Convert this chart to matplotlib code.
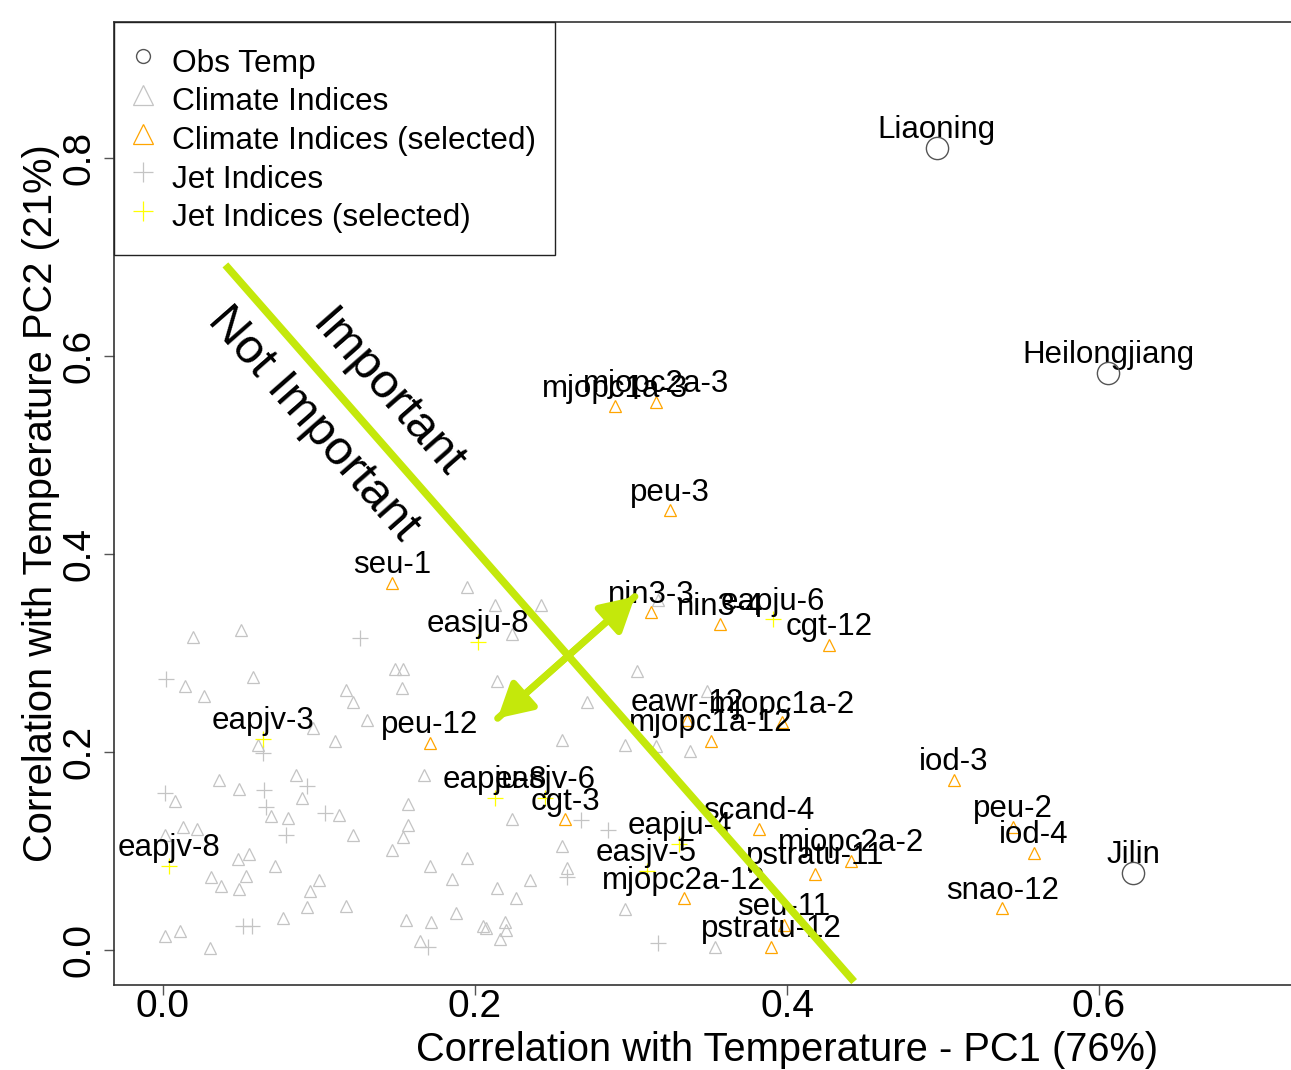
import matplotlib
matplotlib.use("Agg")
import matplotlib.pyplot as plt

plt.rcParams["font.family"] = ["Liberation Sans", "DejaVu Sans"]

# observed temperature series
obs_names = ["Liaoning", "Heilongjiang", "Jilin"]
obs_x = [0.496, 0.606, 0.622]
obs_y = [0.810, 0.583, 0.078]

# climate indices (not selected)
clim_x = [0.195, 0.213, 0.242, 0.019, 0.050, 0.224, 0.149, 0.154, 0.014, 0.026,
          0.058, 0.214, 0.117, 0.153, 0.122, 0.131, 0.096, 0.110, 0.061, 0.167,
          0.036, 0.049, 0.085, 0.008, 0.089, 0.157, 0.069, 0.080, 0.113, 0.224,
          0.013, 0.022, 0.157, 0.001, 0.122, 0.154, 0.147, 0.055, 0.048, 0.195,
          0.072, 0.171, 0.031, 0.053, 0.100, 0.185, 0.235, 0.037, 0.049, 0.094,
          0.214, 0.226, 0.092, 0.117, 0.077, 0.188, 0.156, 0.172, 0.219, 0.205,
          0.207, 0.220, 0.011, 0.001, 0.216, 0.165, 0.030, 0.304, 0.272, 0.256,
          0.296, 0.316, 0.338, 0.349, 0.256, 0.259, 0.296, 0.354, 0.317]
clim_y = [0.367, 0.348, 0.348, 0.316, 0.323, 0.319, 0.284, 0.284, 0.267, 0.257,
          0.276, 0.272, 0.263, 0.265, 0.250, 0.232, 0.224, 0.211, 0.207, 0.177,
          0.172, 0.163, 0.177, 0.150, 0.153, 0.147, 0.135, 0.133, 0.136, 0.132,
          0.124, 0.122, 0.126, 0.116, 0.116, 0.114, 0.101, 0.097, 0.092, 0.093,
          0.085, 0.085, 0.074, 0.075, 0.071, 0.072, 0.071, 0.065, 0.062, 0.060,
          0.063, 0.052, 0.043, 0.044, 0.032, 0.037, 0.030, 0.028, 0.028, 0.024,
          0.022, 0.020, 0.019, 0.014, 0.011, 0.009, 0.002, 0.282, 0.250, 0.212,
          0.207, 0.206, 0.201, 0.262, 0.105, 0.083, 0.041, 0.003, 0.354]

# climate indices (selected)
sel_clim_names = ["seu-1", "peu-12", "mjopc1a-3", "mjopc2a-3", "peu-3", "nin3-3",
                  "nin3-4", "cgt-12", "cgt-3", "eawr-12", "mjopc1a-2", "mjopc1a-12",
                  "scand-4", "mjopc2a-2", "pstratu-11", "mjopc2a-12", "seu-11",
                  "pstratu-12", "iod-3", "peu-2", "iod-4", "snao-12"]
sel_clim_x = [0.147, 0.171, 0.290, 0.316, 0.325, 0.313, 0.357, 0.427, 0.258, 0.336,
              0.397, 0.351, 0.382, 0.441, 0.418, 0.334, 0.398, 0.390, 0.507, 0.545,
              0.558, 0.538]
sel_clim_y = [0.371, 0.209, 0.549, 0.554, 0.444, 0.341, 0.329, 0.308, 0.132, 0.232,
              0.230, 0.211, 0.122, 0.090, 0.077, 0.052, 0.025, 0.003, 0.172, 0.124,
              0.098, 0.042]

# jet indices (not selected)
jet_x = [0.126, 0.002, 0.064, 0.001, 0.065, 0.092, 0.066, 0.104, 0.079, 0.051,
         0.057, 0.170, 0.268, 0.285, 0.259, 0.317]
jet_y = [0.315, 0.274, 0.199, 0.159, 0.162, 0.166, 0.144, 0.138, 0.116, 0.024,
         0.024, 0.003, 0.131, 0.121, 0.074, 0.007]

# jet indices (selected)
sel_jet_names = ["easju-8", "eapjv-3", "eapjv-8", "eapju-8", "easjv-6", "eapju-6",
                 "eapju-4", "easjv-5"]
sel_jet_x = [0.202, 0.064, 0.004, 0.213, 0.245, 0.391, 0.331, 0.310]
sel_jet_y = [0.311, 0.213, 0.085, 0.154, 0.154, 0.334, 0.107, 0.080]

# separating line and double arrow (data units)
split_x = [0.040, 0.443]
split_y = [0.692, -0.032]
arrow_from = (0.3025, 0.357)
arrow_to = (0.2145, 0.234)

GREEN = "#c4e80b"

fig = plt.figure(figsize=(12.91, 10.70), dpi=100)
ax = fig.add_axes([114 / 1291, 85 / 1070, (1461 - 114) / 1291, 963 / 1070])

ax.plot(clim_x, clim_y, ls="none", marker="^", ms=9, mfc="none", mec="#c4c4c4",
        mew=0.9, label="Climate Indices", zorder=2)
ax.plot(jet_x, jet_y, ls="none", marker="+", ms=11, mec="#c4c4c4", mew=0.9,
        label="Jet Indices", zorder=2)
ax.plot(sel_clim_x, sel_clim_y, ls="none", marker="^", ms=9, mfc="none", mec="#ffa500",
        mew=0.9, label="Climate Indices (selected)", zorder=3)
ax.plot(sel_jet_x, sel_jet_y, ls="none", marker="+", ms=11, mec="#ffff00", mew=0.9,
        label="Jet Indices (selected)", zorder=3)
ax.plot(obs_x, obs_y, ls="none", marker="o", ms=16, mfc="none", mec="#555555",
        mew=1.0, label="Obs Temp", zorder=5)

for names, xs, ys in [(sel_clim_names, sel_clim_x, sel_clim_y),
                      (sel_jet_names, sel_jet_x, sel_jet_y),
                      (obs_names, obs_x, obs_y)]:
    for n, x, y in zip(names, xs, ys):
        ax.annotate(n, (x, y), xytext=(0, 7), textcoords="offset points",
                    ha="center", va="baseline", fontsize=22.5, zorder=4)

ax.plot(split_x, split_y, color=GREEN, lw=5.5, solid_capstyle="butt", zorder=6)
ax.annotate("", xy=arrow_to, xytext=arrow_from,
            arrowprops=dict(arrowstyle="<|-|>,head_length=0.45,head_width=0.25",
                            color=GREEN, lw=5, mutation_scale=45,
                            shrinkA=0, shrinkB=0), zorder=6)
ax.annotate("", xy=arrow_from, xytext=arrow_to,
            arrowprops=dict(arrowstyle="-", color=GREEN, lw=5,
                            shrinkA=0, shrinkB=0), zorder=6)

ax.text(0.1440, 0.561, "Important", rotation=-48.7, rotation_mode="anchor",
        ha="center", va="center", fontsize=35)
ax.text(0.0960, 0.531, "Not Important", rotation=-48.7, rotation_mode="anchor",
        ha="center", va="center", fontsize=35)

ax.set_xlim(-0.0314, 0.832)
ax.set_ylim(-0.0354, 0.9374)
ax.set_xticks([0.0, 0.2, 0.4, 0.6])
ax.set_yticks([0.0, 0.2, 0.4, 0.6, 0.8])
ax.set_xticklabels(["0.0", "0.2", "0.4", "0.6"])
ax.set_yticklabels(["0.0", "0.2", "0.4", "0.6", "0.8"], rotation=90, va="center")
ax.tick_params(labelsize=28, length=7, width=1, color="#555555")
ax.tick_params(axis="x", pad=-4)
ax.tick_params(axis="y", pad=5)
for s in ax.spines.values():
    s.set_color("#333333")
    s.set_linewidth(1.2)

ax.set_xlabel("Correlation with Temperature - PC1 (76%)", fontsize=28.7, labelpad=4)
ax.set_ylabel("Correlation with Temperature PC2 (21%)", fontsize=28.7, labelpad=1)

h, l = ax.get_legend_handles_labels()
order = ["Obs Temp", "Climate Indices", "Climate Indices (selected)", "Jet Indices",
         "Jet Indices (selected)"]
hd = dict(zip(l, h))
leg = ax.legend([hd[k] for k in order], order, loc="upper left", bbox_to_anchor=(0, 1),
                borderaxespad=0, fontsize=22.8, numpoints=1, fancybox=False,
                framealpha=1, edgecolor="#222222", handlelength=0.63,
                handleheight=1.6, handletextpad=0.6, borderpad=0.6, labelspacing=-0.064)
leg.get_frame().set_linewidth(1.0)
leg.set_zorder(10)
for hnd, ms in zip(leg.legend_handles, [10, 14, 14, 15, 15]):
    hnd.set_markersize(ms)

fig.savefig("out.png", dpi=100)
